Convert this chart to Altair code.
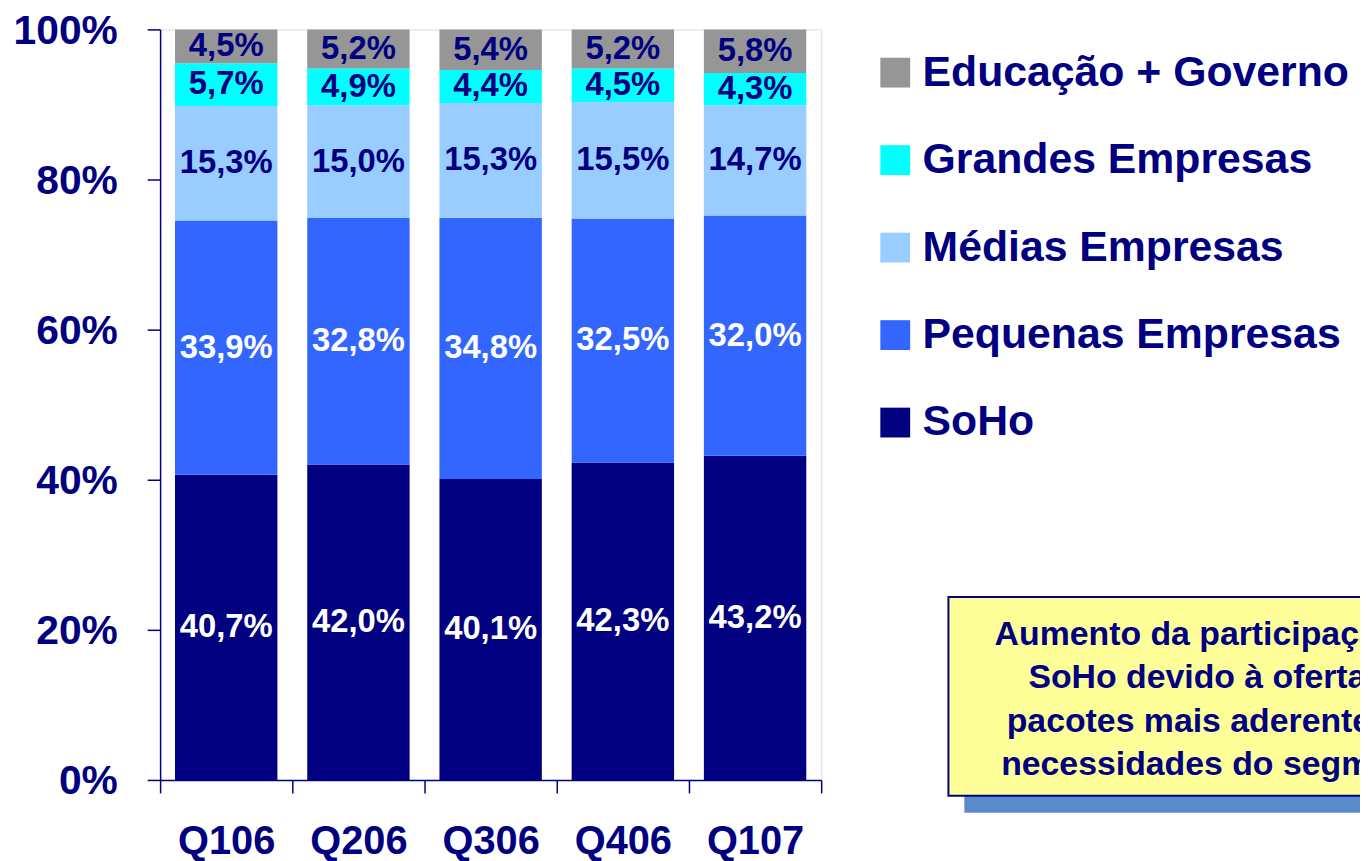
import altair as alt
import pandas as pd

quarters = ["Q106", "Q206", "Q306", "Q406", "Q107"]
# segments listed bottom -> top of each stacked bar
segments = ["SoHo", "Pequenas Empresas", "Médias Empresas", "Grandes Empresas", "Educação + Governo"]
soho = [40.7, 42.0, 40.1, 42.3, 43.2]
pequenas = [33.9, 32.8, 34.8, 32.5, 32.0]
medias = [15.3, 15.0, 15.3, 15.5, 14.7]
grandes = [5.7, 4.9, 4.4, 4.5, 4.3]
educacao = [4.5, 5.2, 5.4, 5.2, 5.8]
seg_colors = ["#000080", "#3366FF", "#99CCFF", "#00FFFF", "#969696"]
note_lines = ["Aumento da participação do", "SoHo devido à oferta de",
              "pacotes mais aderentes às", "necessidades do segmento"]

NAVY = "#000080"
FONT = "Liberation Sans"

series = [soho, pequenas, medias, grandes, educacao]
rows = []
for si, (seg, vals) in enumerate(zip(segments, series)):
    for q, v in zip(quarters, vals):
        rows.append({"quarter": q, "segment": seg, "value": v, "idx": si})
df = pd.DataFrame(rows)

legend_order = segments[::-1]
legend_colors = seg_colors[::-1]

x_enc = alt.X("quarter:N", sort=quarters, title=None,
              scale=alt.Scale(paddingInner=0, paddingOuter=0),
              axis=alt.Axis(labelAngle=0, labelFontSize=40, labelFont=FONT, labelFontWeight="bold",
                            labelColor=NAVY, domainColor=NAVY, tickColor=NAVY, tickSize=13,
                            tickWidth=1.5, domainWidth=1.5, tickBand="extent", labelPadding=29))

bars = alt.Chart(df).mark_bar(size=103).encode(
    x=x_enc,
    y=alt.Y("value:Q", stack="normalize", title=None,
            scale=alt.Scale(domain=[0, 1], nice=False),
            axis=alt.Axis(format=".0%", values=[0, 0.2, 0.4, 0.6, 0.8, 1.0], grid=False,
                          labelFontSize=41, labelFont=FONT, labelFontWeight="bold", labelColor=NAVY,
                          domainColor=NAVY, tickColor=NAVY, tickSize=13, tickWidth=1.5,
                          domainWidth=1.5, labelPadding=30, labelOffset=2)),
    color=alt.Color("segment:N", scale=alt.Scale(domain=legend_order, range=legend_colors),
                    legend=alt.Legend(title=None, orient="none", legendX=718, legendY=22,
                                      symbolType="square", symbolSize=900, symbolStrokeWidth=0,
                                      labelFontSize=43, labelFont=FONT, labelFontWeight="bold",
                                      labelColor=NAVY, labelOffset=6, rowPadding=44,
                                      labelLimit=600, padding=0)),
    order=alt.Order("idx:Q", sort="ascending"),
)

base_text = alt.Chart(df).transform_joinaggregate(
    total="sum(value)", groupby=["quarter"]
).transform_window(
    cum="sum(value)", groupby=["quarter"], sort=[alt.SortField("idx", order="ascending")],
    frame=[None, 0]
).transform_calculate(
    mid="(datum.cum - datum.value / 2) / datum.total",
    label="replace(format(datum.value, '.1f'), '.', ',') + '%'"
)

text_dark = base_text.transform_filter("datum.idx >= 2").mark_text(
    font=FONT, fontWeight="bold", fontSize=33, color=NAVY, baseline="middle"
).encode(x=alt.X("quarter:N", sort=quarters), y=alt.Y("mid:Q"), text="label:N")

text_light = base_text.transform_filter("datum.idx < 2").mark_text(
    font=FONT, fontWeight="bold", fontSize=33, color="white", baseline="middle"
).encode(x=alt.X("quarter:N", sort=quarters), y=alt.Y("mid:Q"), text="label:N")

one = pd.DataFrame({"k": [0]})
shadow = alt.Chart(one).mark_rect(color="#5A8ACB").encode(
    x=alt.value(809), x2=alt.value(1361), y=alt.value(588), y2=alt.value(788))
box = alt.Chart(one).mark_rect(fill="#FFFF99", stroke=NAVY, strokeWidth=2).encode(
    x=alt.value(793), x2=alt.value(1344), y=alt.value(571), y2=alt.value(771))
note = alt.Chart(one).mark_text(
    text=note_lines, font=FONT, fontWeight="bold", fontSize=34, color=NAVY,
    align="center", baseline="middle", lineHeight=43.7
).encode(x=alt.value(1068), y=alt.value(609))

chart = alt.layer(bars, text_dark, text_light, shadow, box, note).properties(
    width=665, height=755,
    autosize=alt.AutoSizeParams(type="none"),
    padding={"left": 153, "top": 19, "right": 542, "bottom": 79},
).configure_view(stroke=None).configure(background="white")

chart.save("out.html", embed_options={"renderer": "svg", "actions": False})
